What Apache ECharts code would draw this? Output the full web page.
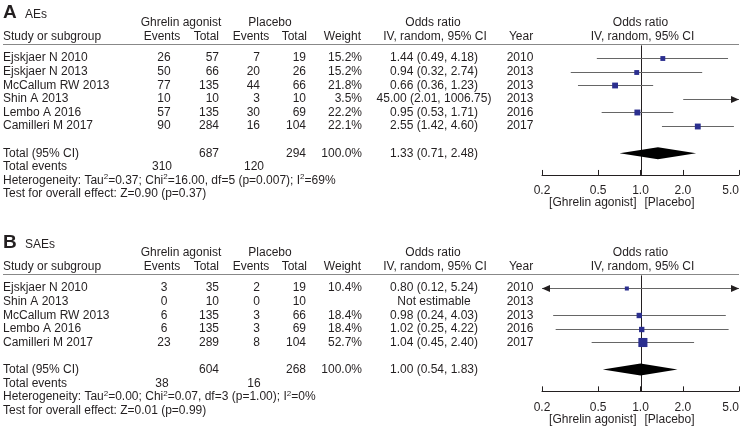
<!DOCTYPE html>
<html>
<head>
<meta charset="utf-8">
<script src="https://cdn.jsdelivr.net/npm/echarts@6/dist/echarts.min.js"></script>
<style>
  html, body { margin: 0; background: #fff; }
  #main { width: 740px; height: 430px; }
</style>
</head>
<body>
<div id="main"></div>
<script>
// ---- data (A: AEs) ----
const studiesA = ['Ejskjaer N 2010', 'Ejskjaer N 2013', 'McCallum RW 2013', 'Shin A 2013', 'Lembo A 2016', 'Camilleri M 2017'];
const ghrelinEventsA = [26, 50, 77, 10, 57, 90];
const ghrelinTotalA = [57, 66, 135, 10, 135, 284];
const placeboEventsA = [7, 20, 44, 3, 30, 16];
const placeboTotalA = [19, 26, 66, 10, 69, 104];
const weightA = [15.2, 15.2, 21.8, 3.5, 22.2, 22.1];
const orA = [1.44, 0.94, 0.66, 45.00, 0.95, 2.55];
const lowA = [0.49, 0.32, 0.36, 2.01, 0.53, 1.42];
const highA = [4.18, 2.74, 1.23, 1006.75, 1.71, 4.60];
const yearA = [2010, 2013, 2013, 2013, 2016, 2017];
const pooledA = [1.33, 0.71, 2.48];
const totalsA = [687, 294];
const totalEventsA = [310, 120];
const hetA = ['0.37', '16.00', 5, '0.007', 69];
const testA = 'Z=0.90 (p=0.37)';

// ---- data (B: SAEs) ----
const studiesB = ['Ejskjaer N 2010', 'Shin A 2013', 'McCallum RW 2013', 'Lembo A 2016', 'Camilleri M 2017'];
const ghrelinEventsB = [3, 0, 6, 6, 23];
const ghrelinTotalB = [35, 10, 135, 135, 289];
const placeboEventsB = [2, 0, 3, 3, 8];
const placeboTotalB = [19, 10, 66, 69, 104];
const weightB = [10.4, null, 18.4, 18.4, 52.7];
const orB = [0.80, null, 0.98, 1.02, 1.04];
const lowB = [0.12, null, 0.24, 0.25, 0.45];
const highB = [5.24, null, 4.03, 4.22, 2.40];
const yearB = [2010, 2013, 2013, 2016, 2017];
const pooledB = [1.00, 0.54, 1.83];
const totalsB = [604, 268];
const totalEventsB = [38, 16];
const hetB = ['0.00', '0.07', 3, '1.00', 0];
const testB = 'Z=0.01 (p=0.99)';

const tickLabels = [0.2, 0.5, 1.0, 2.0, 5.0];

// ---- styling ----
const font = "'Liberation Sans', Arial, sans-serif";
const ink = '#231f20';
const ciColor = '#666';
const boxColor = '#2b2f8f';
const xMin = Math.log10(tickLabels[0]);
const xMax = Math.log10(tickLabels[tickLabels.length - 1]);

const panels = [
  { letter: 'A', title: 'AEs', studies: studiesA, gEv: ghrelinEventsA, gTot: ghrelinTotalA, pEv: placeboEventsA,
    pTot: placeboTotalA, wt: weightA, or: orA, lo: lowA, hi: highA, yr: yearA, pooled: pooledA,
    totals: totalsA, totEv: totalEventsA, het: hetA, test: testA },
  { letter: 'B', title: 'SAEs', studies: studiesB, gEv: ghrelinEventsB, gTot: ghrelinTotalB, pEv: placeboEventsB,
    pTot: placeboTotalB, wt: weightB, or: orB, lo: lowB, hi: highB, yr: yearB, pooled: pooledB,
    totals: totalsB, totEv: totalEventsB, het: hetB, test: testB }
];

function fmtCI(o, l, h) {
  return o.toFixed(2) + ' (' + l.toFixed(2) + ', ' + h.toFixed(2) + ')';
}

function tableSeries(gi, P) {
  return {
    type: 'custom', xAxisIndex: gi, yAxisIndex: gi, silent: true, z: 1,
    data: [[0, 0]],
    renderItem: function (params, api) {
      const Y = r => api.coord([0, r])[1];
      const X1 = api.coord([0, 0])[0];
      const els = [];
      const t = (x, r, s, align, extra) => els.push({
        type: 'text', x: x, y: Y(r),
        style: Object.assign({ text: String(s), fill: ink, fontSize: 12, fontFamily: font,
          align: align || 'left', verticalAlign: 'middle' }, extra || {})
      });
      // headers
      t(3, -3.3, P.letter, 'left', { fontSize: 19, fontWeight: 'bold' });
      t(25, -3.2, P.title);
      t(181, -2.6, 'Ghrelin agonist', 'center');
      t(270, -2.6, 'Placebo', 'center');
      t(433, -2.6, 'Odds ratio', 'center');
      t(X1, -2.6, 'Odds ratio', 'center');
      t(3, -1.6, 'Study or subgroup');
      t(162, -1.6, 'Events', 'center');
      t(219, -1.6, 'Total', 'right');
      t(251, -1.6, 'Events', 'center');
      t(307, -1.6, 'Total', 'right');
      t(361, -1.6, 'Weight', 'right');
      t(435, -1.6, 'IV, random, 95% CI', 'center');
      t(521, -1.6, 'Year', 'center');
      t(X1 + 2, -1.6, 'IV, random, 95% CI', 'center');
      const yl = Math.round(Y(-1)) + 0.5;
      els.push({ type: 'line', shape: { x1: 3, y1: yl, x2: 739, y2: yl }, style: { stroke: '#888', lineWidth: 1 } });

      // study rows
      P.studies.forEach((s, i) => {
        t(3, i, s);
        t(164, i, P.gEv[i], 'center');
        t(219, i, P.gTot[i], 'right');
        t(260, i, P.pEv[i], 'right');
        t(306, i, P.pTot[i], 'right');
        t(362, i, P.wt[i] == null ? '' : P.wt[i].toFixed(1) + '%', 'right');
        t(434, i, P.or[i] == null ? 'Not estimable' : fmtCI(P.or[i], P.lo[i], P.hi[i]), 'center');
        t(520, i, P.yr[i], 'center');
      });

      // totals
      const rT = P.studies.length + 1;
      t(3, rT, 'Total (95% CI)');
      t(219, rT, P.totals[0], 'right');
      t(306, rT, P.totals[1], 'right');
      t(362, rT, '100.0%', 'right');
      t(434, rT, fmtCI(P.pooled[0], P.pooled[1], P.pooled[2]), 'center');
      t(3, rT + 1, 'Total events');
      t(162, rT + 1, P.totEv[0], 'center');
      t(254, rT + 1, P.totEv[1], 'center');
      const h = P.het;
      els.push({
        type: 'text', x: 3, y: Y(rT + 2),
        style: {
          text: '{n|Heterogeneity: Tau}{s|2}{n|=' + h[0] + '; Chi}{s|2}{n|=' + h[1] + ', df=' + h[2] +
            ' (p=' + h[3] + '); I}{s|2}{n|=' + h[4] + '%}',
          fill: ink, fontFamily: font, fontSize: 12, align: 'left', verticalAlign: 'middle',
          rich: {
            n: { fontSize: 12, fontFamily: font, fill: ink, lineHeight: 14 },
            s: { fontSize: 8, fontFamily: font, fill: ink, lineHeight: 14, padding: [0, 0, 7, 0] }
          }
        }
      });
      t(3, rT + 3, 'Test for overall effect: ' + P.test);

      // favours labels under the axis
      const yAx = params.coordSys.y + params.coordSys.height;
      els.push({ type: 'text', x: X1 - 4, y: yAx + 28,
        style: { text: '[Ghrelin agonist]', fill: ink, fontSize: 12, fontFamily: font, align: 'right', verticalAlign: 'middle' } });
      els.push({ type: 'text', x: X1 + 4, y: yAx + 28,
        style: { text: '[Placebo]', fill: ink, fontSize: 12, fontFamily: font, align: 'left', verticalAlign: 'middle' } });
      return { type: 'group', children: els };
    }
  };
}

function refLineSeries(gi) {
  return {
    type: 'custom', xAxisIndex: gi, yAxisIndex: gi, silent: true, z: 2,
    data: [[0, 0]],
    renderItem: function (params, api) {
      const cs = params.coordSys;
      const x = Math.round(api.coord([0, 0])[0]) + 0.5;
      return { type: 'line', shape: { x1: x, y1: cs.y + 1, x2: x, y2: cs.y + cs.height },
        style: { stroke: ink, lineWidth: 1 } };
    }
  };
}

function forestSeries(gi, P) {
  const data = [];
  P.studies.forEach((s, i) => {
    if (P.or[i] != null) data.push([i, P.or[i], P.lo[i], P.hi[i], P.wt[i]]);
  });
  return {
    type: 'custom', xAxisIndex: gi, yAxisIndex: gi, silent: true, z: 3,
    data: data,
    renderItem: function (params, api) {
      const row = api.value(0);
      const o = api.value(1), lo = api.value(2), hi = api.value(3), w = api.value(4);
      const cs = params.coordSys;
      const xL = cs.x, xR = cs.x + cs.width;
      const X = v => api.coord([Math.log10(v), row])[0];
      const y = Math.round(api.coord([0, row])[1]) + 0.5;
      const a = lo < tickLabels[0] ? xL : X(lo);
      const b = hi > tickLabels[tickLabels.length - 1] ? xR : X(hi);
      const kids = [];
      kids.push({ type: 'line', shape: { x1: a, y1: y, x2: b, y2: y }, style: { stroke: ciColor, lineWidth: 1 } });
      if (hi > tickLabels[tickLabels.length - 1]) {
        kids.push({ type: 'polygon', shape: { points: [[xR, y], [xR - 8, y - 3.5], [xR - 8, y + 3.5]] }, style: { fill: ink } });
      }
      if (lo < tickLabels[0]) {
        kids.push({ type: 'polygon', shape: { points: [[xL, y], [xL + 8, y - 3.5], [xL + 8, y + 3.5]] }, style: { fill: ink } });
      }
      if (o >= tickLabels[0] && o <= tickLabels[tickLabels.length - 1]) {
        const sz = 1.25 * Math.sqrt(w);
        kids.push({ type: 'rect', shape: { x: X(o) - sz / 2, y: y - sz / 2, width: sz, height: sz }, style: { fill: boxColor } });
      }
      return { type: 'group', children: kids };
    }
  };
}

function diamondSeries(gi, P) {
  return {
    type: 'custom', xAxisIndex: gi, yAxisIndex: gi, silent: true, z: 4,
    data: [[P.studies.length + 1, P.pooled[0], P.pooled[1], P.pooled[2]]],
    renderItem: function (params, api) {
      const row = api.value(0);
      const X = v => api.coord([Math.log10(v), row])[0];
      const y = api.coord([0, row])[1];
      return { type: 'polygon',
        shape: { points: [[X(api.value(2)), y], [X(api.value(1)), y - 6], [X(api.value(3)), y], [X(api.value(1)), y + 6]] },
        style: { fill: '#000' } };
    }
  };
}

const tickVals = tickLabels.map(v => Math.log10(v));
const rowPx = 13.6;
const grids = [
  { left: 542, width: 197, top: 58 - rowPx, height: 9.6 * rowPx, outerBoundsMode: 'none' },
  { left: 542, width: 197, top: 288 - rowPx, height: 8.6 * rowPx, outerBoundsMode: 'none' }
];

const xAxes = grids.map((g, i) => ({
  type: 'value', gridIndex: i, min: xMin, max: xMax, position: 'bottom',
  axisLine: { show: true, onZero: false, lineStyle: { color: ink, width: 1 } },
  axisTick: { show: true, inside: true, length: 5, customValues: tickVals, lineStyle: { color: ink } },
  axisLabel: { customValues: tickVals, formatter: v => Math.pow(10, v).toFixed(1), alignMaxLabel: 'right',
    color: ink, fontSize: 12, fontFamily: font, margin: 10 },
  splitLine: { show: false }
}));
const yAxes = [
  { type: 'value', gridIndex: 0, inverse: true, min: -1, max: 8.6, show: false },
  { type: 'value', gridIndex: 1, inverse: true, min: -1, max: 7.6, show: false }
];

const series = [];
panels.forEach((P, i) => {
  series.push(tableSeries(i, P), refLineSeries(i), forestSeries(i, P), diamondSeries(i, P));
});

const chart = echarts.init(document.getElementById('main'));
chart.setOption({
  backgroundColor: '#fff',
  animation: false,
  textStyle: { fontFamily: font },
  grid: grids,
  xAxis: xAxes,
  yAxis: yAxes,
  series: series
});
</script>
</body>
</html>
